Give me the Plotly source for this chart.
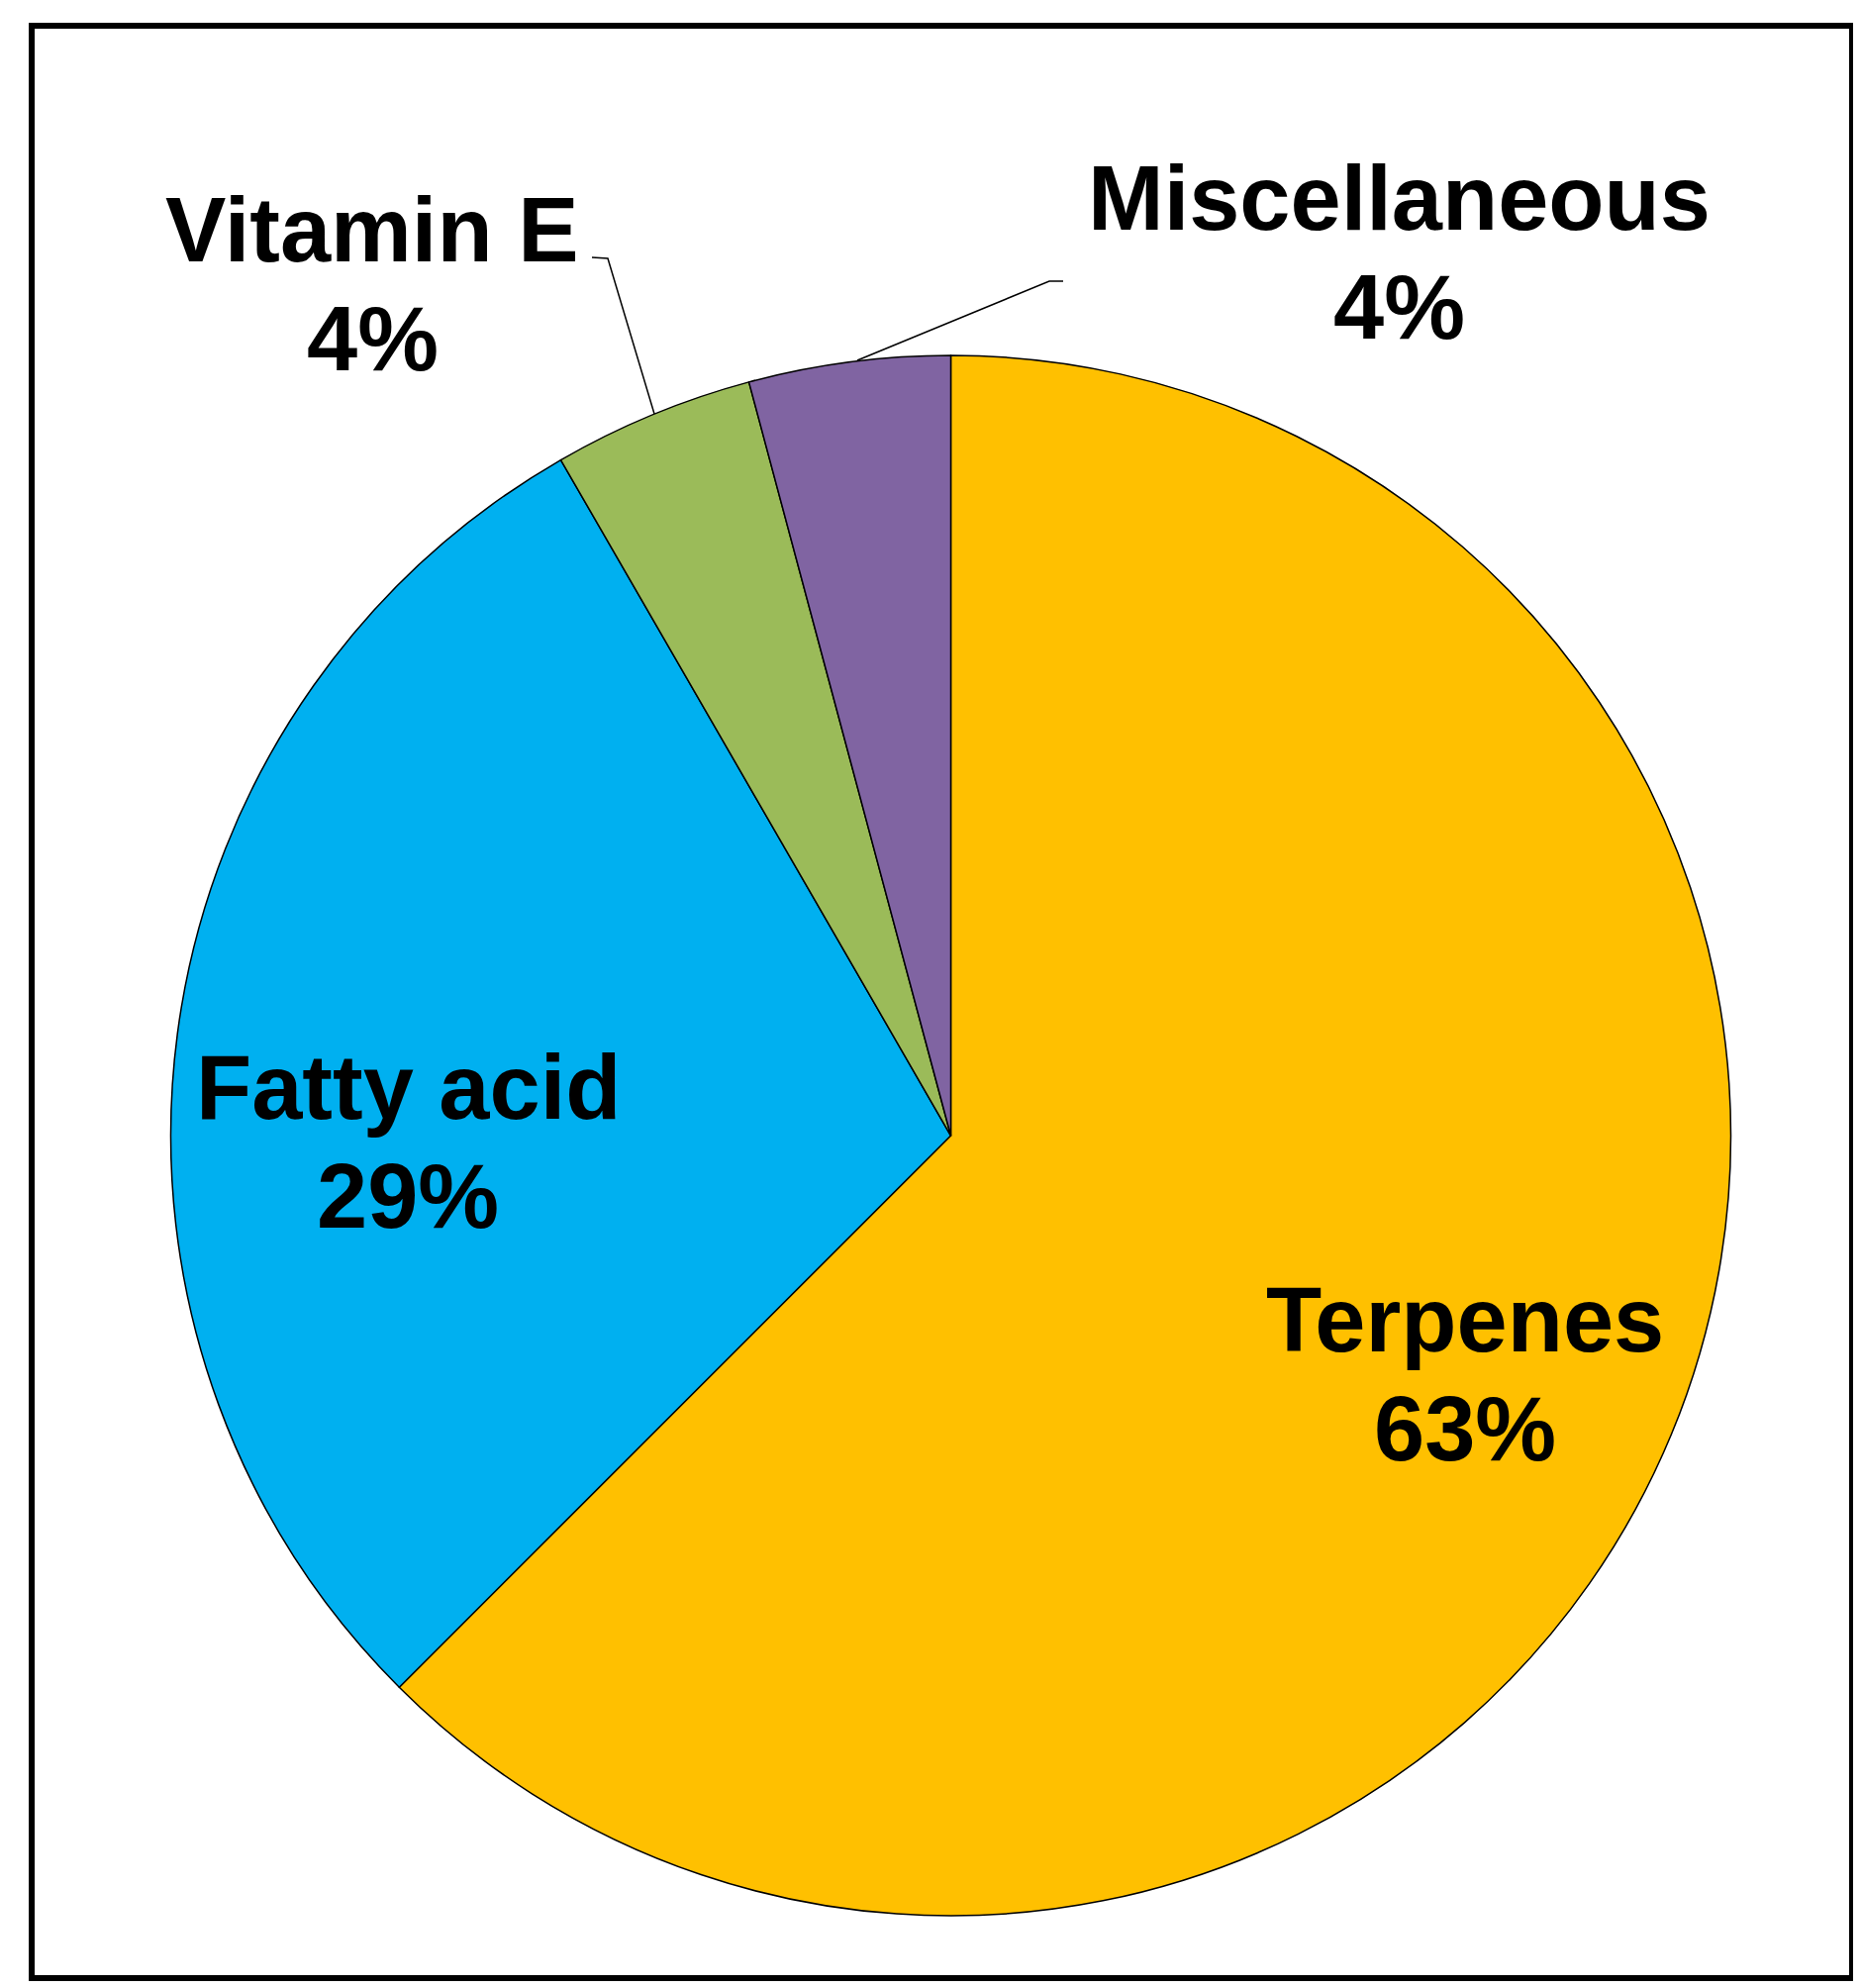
import math
import plotly.graph_objects as go

W, H = 1880, 2008

# compound classes, clockwise from 12 o'clock
categories = ["Terpenes", "Fatty acid", "Vitamin E", "Miscellaneous"]
compound_counts = [15, 7, 1, 1]
slice_colors = ["#FFC000", "#00B0F0", "#9BBB59", "#8064A2"]

total = sum(compound_counts)
pct_text = [str(math.floor(v / total * 100 + 0.5)) + "%" for v in compound_counts]


def px(x, y):
    # pixel position -> paper coords
    return x / W, 1 - y / H


fig = go.Figure()

# pie centre ~ (952, 1139), radius ~ 788 px
cx, cy, r = 952.5, 1139, 788
fig.add_trace(go.Pie(
    labels=categories,
    values=compound_counts,
    sort=False,
    direction="clockwise",
    rotation=0,
    textinfo="none",
    hoverinfo="label+percent",
    marker=dict(colors=slice_colors, line=dict(color="black", width=1.5)),
    domain=dict(x=[(cx - r) / W, (cx + r) / W],
                y=[1 - (cy + r) / H, 1 - (cy - r) / H]),
    showlegend=False,
))

# label placement (centre x, baseline of name, baseline of percent)
label_pos = [
    (1472, 1358, 1468),
    (404, 1123, 1233),
    (368, 257, 367),
    (1405, 225, 335),
]

fs = 92
annots = []
for name, pct, (lx, b1, b2) in zip(categories, pct_text, label_pos):
    for txt, base in ((name, b1), (pct, b2)):
        x, y = px(lx, base - 0.36 * fs)
        annots.append(dict(
            text="<b>" + txt + "</b>", x=x, y=y, xref="paper", yref="paper",
            xanchor="center", yanchor="middle", showarrow=False,
            font=dict(family="Liberation Sans, Arial, sans-serif", size=fs, color="black"),
        ))


def path(points):
    s = ""
    for i, (x, y) in enumerate(points):
        X, Y = px(x, y)
        s += ("M" if i == 0 else " L") + " %f,%f" % (X, Y)
    return s


shapes = [
    # frame
    dict(type="rect", xref="paper", yref="paper",
         x0=24 / W, x1=1863 / W, y0=1 - 1990 / H, y1=1 - 18 / H,
         line=dict(color="black", width=6)),
    # leader lines
    dict(type="path", xref="paper", yref="paper",
         path=path([(590, 252), (606, 253), (653, 410)]),
         line=dict(color="black", width=1.5)),
    dict(type="path", xref="paper", yref="paper",
         path=path([(1066, 276), (1052, 276), (858, 356)]),
         line=dict(color="black", width=1.5)),
]

fig.update_layout(
    width=W, height=H,
    margin=dict(l=0, r=0, t=0, b=0),
    paper_bgcolor="white",
    plot_bgcolor="white",
    annotations=annots,
    shapes=shapes,
)

fig.write_html("out.html")
